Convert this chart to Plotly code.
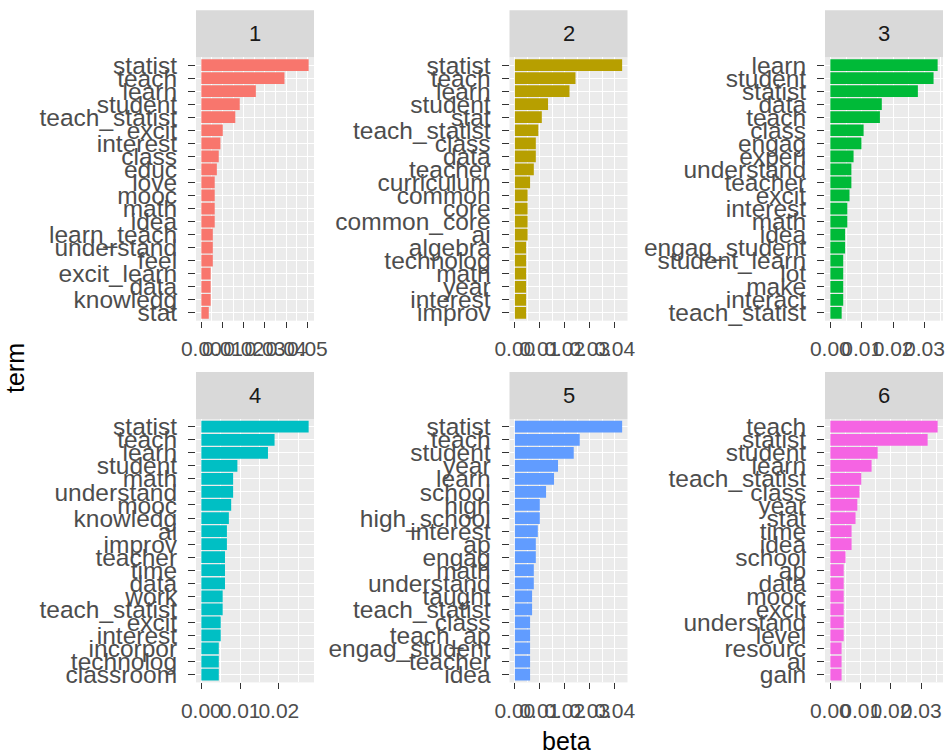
import plotly.graph_objects as go

# Top-20 terms per LDA topic with their per-topic word probabilities (beta)
topics = ["1", "2", "3", "4", "5", "6"]

terms_1 = ["statist", "teach", "learn", "student", "teach_statist", "excit", "interest",
           "class", "educ", "love", "mooc", "math", "idea", "learn_teach", "understand",
           "feel", "excit_learn", "data", "knowledg", "stat"]
beta_1 = [0.0506, 0.0392, 0.0257, 0.0181, 0.0160, 0.0101, 0.0090, 0.0082, 0.0073, 0.0063,
          0.0063, 0.0063, 0.0063, 0.0054, 0.0054, 0.0054, 0.0044, 0.0044, 0.0044, 0.0035]

terms_2 = ["statist", "teach", "learn", "student", "stat", "teach_statist", "class", "data",
           "teacher", "curriculum", "common", "core", "common_core", "ai", "algebra",
           "technolog", "math", "year", "interest", "improv"]
beta_2 = [0.0430, 0.0243, 0.0219, 0.0133, 0.0108, 0.0094, 0.0084, 0.0084, 0.0076, 0.0061,
          0.0051, 0.0051, 0.0051, 0.0051, 0.0045, 0.0045, 0.0045, 0.0045, 0.0045, 0.0045]

terms_3 = ["learn", "student", "statist", "data", "teach", "class", "engag", "experi",
           "understand", "teacher", "excit", "interest", "math", "idea", "engag_student",
           "student_learn", "lot", "make", "interact", "teach_statist"]
beta_3 = [0.0342, 0.0329, 0.0279, 0.0164, 0.0158, 0.0106, 0.0099, 0.0074, 0.0067, 0.0067,
          0.0061, 0.0054, 0.0054, 0.0047, 0.0047, 0.0041, 0.0041, 0.0041, 0.0041, 0.0036]

terms_4 = ["statist", "teach", "learn", "student", "math", "understand", "mooc", "knowledg",
           "ai", "improv", "teacher", "time", "data", "work", "teach_statist", "excit",
           "interest", "incorpor", "technolog", "classroom"]
beta_4 = [0.0277, 0.0189, 0.0172, 0.0093, 0.0082, 0.0082, 0.0077, 0.0071, 0.0066, 0.0066,
          0.0061, 0.0061, 0.0061, 0.0055, 0.0055, 0.0050, 0.0050, 0.0045, 0.0045, 0.0045]

terms_5 = ["statist", "teach", "student", "year", "learn", "school", "high", "high_school",
           "interest", "ap", "engag", "math", "understand", "taught", "teach_statist",
           "class", "teach_ap", "engag_student", "teacher", "idea"]
beta_5 = [0.0430, 0.0260, 0.0236, 0.0173, 0.0157, 0.0125, 0.0100, 0.0100, 0.0092, 0.0084,
          0.0084, 0.0076, 0.0076, 0.0069, 0.0069, 0.0061, 0.0061, 0.0061, 0.0061, 0.0061]

terms_6 = ["teach", "statist", "student", "learn", "teach_statist", "class", "year", "stat",
           "time", "idea", "school", "ap", "data", "mooc", "excit", "understand", "level",
           "resourc", "ai", "gain"]
beta_6 = [0.0354, 0.0321, 0.0156, 0.0136, 0.0102, 0.0096, 0.0089, 0.0083, 0.0070, 0.0070,
          0.0050, 0.0044, 0.0044, 0.0044, 0.0044, 0.0044, 0.0044, 0.0037, 0.0037, 0.0037]

all_terms = [terms_1, terms_2, terms_3, terms_4, terms_5, terms_6]
all_beta = [beta_1, beta_2, beta_3, beta_4, beta_5, beta_6]
colors = ["#F8766D", "#B79F00", "#00BA38", "#00BFC4", "#619CFF", "#F564E3"]

# Page geometry (pixels) for the 2 x 3 facet grid
W, H = 950, 755
col_left = [196, 509.5, 825]
panel_w = 118
row_top = [57.2, 418.9]
panel_h = 263.5
strip_h = 47

FONT = "Liberation Sans, Arial, sans-serif"


def px_x(v):
    return v / W


def px_y(v):
    return 1 - v / H


fig = go.Figure()
layout = dict(
    width=W, height=H,
    margin=dict(l=0, r=0, t=0, b=0),
    paper_bgcolor="white",
    plot_bgcolor="#EBEBEB",
    showlegend=False,
    font=dict(family=FONT),
    shapes=[], annotations=[],
)

for i, (topic, terms, beta, color) in enumerate(zip(topics, all_terms, all_beta, colors)):
    row, col = divmod(i, 3)
    n = i + 1
    xa = "x" if n == 1 else f"x{n}"
    ya = "y" if n == 1 else f"y{n}"
    x0 = col_left[col]
    x1 = x0 + panel_w
    y0 = row_top[row]
    y1 = y0 + panel_h

    fig.add_trace(go.Bar(
        x=beta, y=terms, orientation="h", width=0.9,
        marker=dict(color=color, line=dict(width=0)),
        xaxis=xa, yaxis=ya,
    ))

    bmax = max(beta)
    layout["xaxis" if n == 1 else f"xaxis{n}"] = dict(
        domain=[px_x(x0), px_x(x1)], anchor=ya,
        range=[-0.05 * bmax, 1.05 * bmax],
        tickmode="linear", tick0=0, dtick=0.01, tickformat=".2f",
        tickangle=0,
        showgrid=True, gridcolor="white", gridwidth=1.4,
        minor=dict(tick0=0, dtick=0.005, showgrid=True, gridcolor="white", gridwidth=0.7),
        zeroline=False, showline=False,
        ticks="outside", ticklen=6, tickwidth=1.3, tickcolor="#333333",
        ticklabelstandoff=3,
        tickfont=dict(family=FONT, size=21, color="#4D4D4D"),
        automargin=False, fixedrange=True,
    )
    layout["yaxis" if n == 1 else f"yaxis{n}"] = dict(
        domain=[px_y(y1), px_y(y0)], anchor=xa,
        type="category", categoryorder="array", categoryarray=terms,
        range=[len(terms) - 1 + 0.6, -0.6],
        tickmode="array", tickvals=terms,
        showgrid=True, gridcolor="white", gridwidth=1.4,
        zeroline=False, showline=False,
        ticks="outside", ticklen=7, tickwidth=1.3, tickcolor="#333333",
        ticklabelstandoff=6,
        tickfont=dict(family=FONT, size=24.5, color="#4D4D4D"),
        automargin=False, fixedrange=True,
    )

    # facet strip
    layout["shapes"].append(dict(
        type="rect", xref="paper", yref="paper",
        x0=px_x(x0), x1=px_x(x1), y0=px_y(y0), y1=px_y(y0 - strip_h),
        fillcolor="#D9D9D9", line=dict(width=0), layer="below",
    ))
    layout["annotations"].append(dict(
        text=topic, xref="paper", yref="paper",
        x=px_x((x0 + x1) / 2), y=px_y(y0 - strip_h / 2),
        xanchor="center", yanchor="middle", showarrow=False,
        font=dict(family=FONT, size=22, color="#1A1A1A"),
    ))

# shared axis titles
layout["annotations"].append(dict(
    text="term", xref="paper", yref="paper", x=px_x(15), y=px_y(368),
    xanchor="center", yanchor="middle", textangle=-90, showarrow=False,
    font=dict(family=FONT, size=25, color="black"),
))
layout["annotations"].append(dict(
    text="beta", xref="paper", yref="paper", x=px_x(566), y=px_y(741),
    xanchor="center", yanchor="middle", showarrow=False,
    font=dict(family=FONT, size=25, color="black"),
))

fig.update_layout(**layout)
fig.write_html("out.html")
